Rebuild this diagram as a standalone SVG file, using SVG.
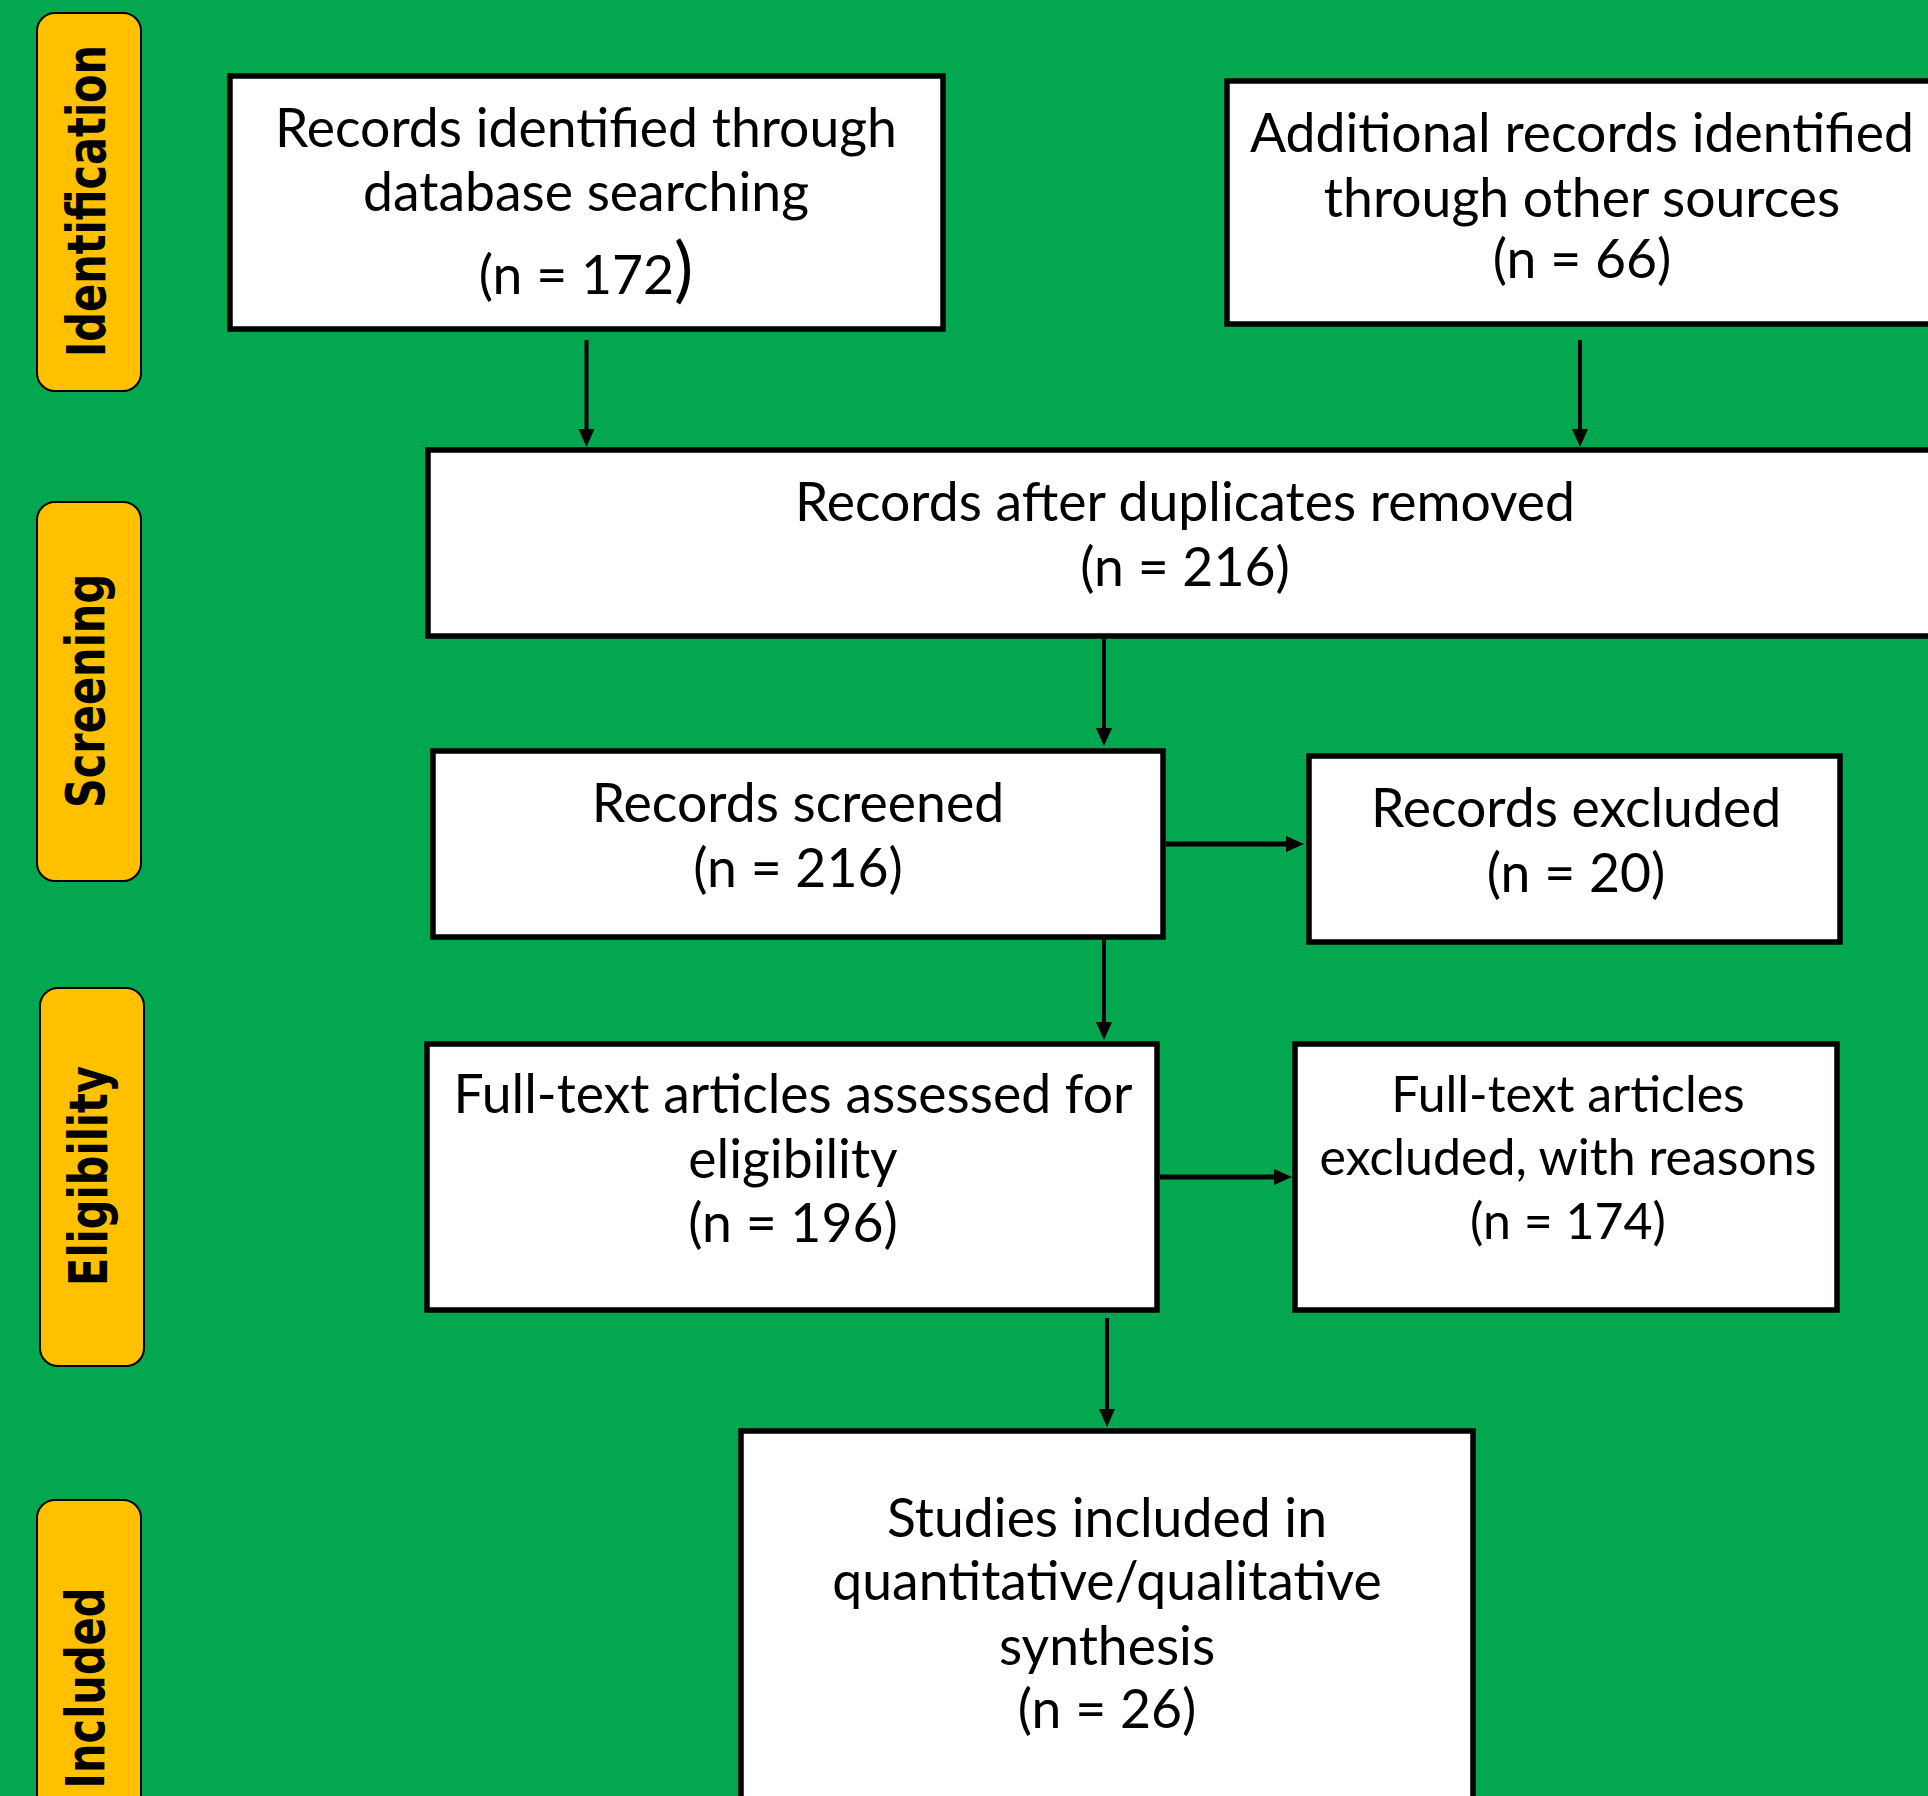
<svg xmlns="http://www.w3.org/2000/svg" width="1928" height="1796" viewBox="0 0 1928 1796">
<style>
.bg{fill:#02A74F}
.box{fill:#FFFFFF;stroke:#000000;stroke-width:5.5}
.pill{fill:#FFC000;stroke:#000000;stroke-width:2}
.t{font-family:Lato,"Liberation Sans",sans-serif;font-size:53.5px;fill:#000000;text-anchor:middle}
.ts{font-size:50px}
.pt{font-family:"DejaVu Sans","Liberation Sans",sans-serif;font-weight:bold;font-size:41.5px;fill:#000000;text-anchor:middle}
.c{stroke:#000000;stroke-width:4;fill:none}
.ch{stroke-width:5}
</style>
<defs>
<marker id="ah" markerUnits="userSpaceOnUse" markerWidth="18" markerHeight="18" refX="8" refY="8" orient="auto" overflow="visible">
<path d="M0,0 L18,8 L0,16 Z" fill="#000000"/>
</marker>
</defs>
<rect class="bg" x="0" y="0" width="1928" height="1796"/>

<g id="phase-identification">
<rect class="pill" x="37" y="13" width="104" height="378" rx="18"/>
<text class="pt" transform="translate(105,201) rotate(-90) scale(1,1.3)">Identification</text>
</g>
<g id="phase-screening">
<rect class="pill" x="37" y="502" width="104" height="379" rx="18"/>
<text class="pt" transform="translate(104,691) rotate(-90) scale(1,1.3)">Screening</text>
</g>
<g id="phase-eligibility">
<rect class="pill" x="40" y="988" width="104" height="378" rx="18"/>
<text class="pt" transform="translate(107,1176) rotate(-90) scale(1,1.3)">Eligibility</text>
</g>
<g id="phase-included">
<rect class="pill" x="37" y="1500" width="104" height="400" rx="18"/>
<text class="pt" transform="translate(104,1688) rotate(-90) scale(1,1.3)">Included</text>
</g>

<g id="connectors">
<line class="c" x1="586.5" y1="340" x2="586.5" y2="437" marker-end="url(#ah)"/>
<line class="c" x1="1580" y1="340" x2="1580" y2="437" marker-end="url(#ah)"/>
<line class="c" x1="1104" y1="639" x2="1104" y2="736" marker-end="url(#ah)"/>
<line class="c ch" x1="1166" y1="844" x2="1294" y2="844" marker-end="url(#ah)"/>
<line class="c" x1="1104" y1="934" x2="1104" y2="1030" marker-end="url(#ah)"/>
<line class="c ch" x1="1160" y1="1177" x2="1282" y2="1177" marker-end="url(#ah)"/>
<line class="c" x1="1107" y1="1318" x2="1107" y2="1417" marker-end="url(#ah)"/>
</g>

<g id="box-database">
<rect class="box" x="230" y="76" width="713" height="253"/>
<text class="t" x="586" y="147">Records identified through</text>
<text class="t" x="586" y="211">database searching</text>
<text class="t" x="586" y="294">(n = 172<tspan font-size="72">)</tspan></text>
</g>
<g id="box-other-sources">
<rect class="box" x="1227" y="81" width="800" height="243"/>
<text class="t" x="1582" y="152">Additional records identified</text>
<text class="t" x="1582" y="217">through other sources</text>
<text class="t" x="1582" y="278">(n = 66)</text>
</g>
<g id="box-duplicates">
<rect class="box" x="428" y="450" width="1600" height="186"/>
<text class="t" x="1185" y="521">Records after duplicates removed</text>
<text class="t" x="1185" y="586">(n = 216)</text>
</g>
<g id="box-screened">
<rect class="box" x="433" y="751" width="730" height="186"/>
<text class="t" x="798" y="822">Records screened</text>
<text class="t" x="798" y="887">(n = 216)</text>
</g>
<g id="box-excluded">
<rect class="box" x="1309" y="756" width="531" height="186"/>
<text class="t" x="1576" y="827">Records excluded</text>
<text class="t" x="1576" y="892">(n = 20)</text>
</g>
<g id="box-fulltext">
<rect class="box" x="427" y="1044" width="730" height="266"/>
<text class="t" x="793" y="1113">Full-text articles assessed for</text>
<text class="t" x="793" y="1178">eligibility</text>
<text class="t" x="793" y="1242">(n = 196)</text>
</g>
<g id="box-fulltext-excluded">
<rect class="box" x="1295" y="1044" width="542" height="266"/>
<text class="t ts" x="1568" y="1112">Full-text articles</text>
<text class="t ts" x="1568" y="1175">excluded, with reasons</text>
<text class="t ts" x="1568" y="1239">(n = 174)</text>
</g>
<g id="box-included">
<rect class="box" x="741" y="1431" width="732" height="420"/>
<text class="t" x="1107" y="1537">Studies included in</text>
<text class="t" x="1107" y="1600">quantitative/qualitative</text>
<text class="t" x="1107" y="1665">synthesis</text>
<text class="t" x="1107" y="1728">(n = 26)</text>
</g>
</svg>
